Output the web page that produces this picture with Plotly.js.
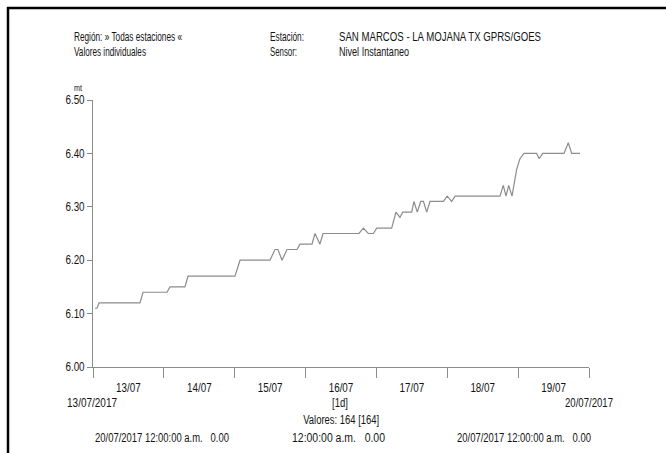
<!DOCTYPE html>
<html>
<head>
<meta charset="utf-8">
<script src="https://cdn.plot.ly/plotly-3.0.1.min.js"></script>
<style>
html,body{margin:0;padding:0;background:#fff;}
#chart{width:666px;height:453px;}
</style>
</head>
<body>
<div id="chart"></div>
<script>
// Water level readings (Nivel Instantaneo, mt)
const times = [
  "2017-07-13 00:40","2017-07-13 01:21","2017-07-13 02:02","2017-07-13 15:55","2017-07-13 16:56",
  "2017-07-14 01:03","2017-07-14 02:05","2017-07-14 07:09","2017-07-14 08:11",
  "2017-07-15 00:06","2017-07-15 01:48","2017-07-15 11:57","2017-07-15 13:38","2017-07-15 14:39",
  "2017-07-15 16:01","2017-07-15 17:42","2017-07-15 21:06","2017-07-15 22:06",
  "2017-07-16 02:11","2017-07-16 03:12","2017-07-16 04:52","2017-07-16 05:54","2017-07-16 18:06",
  "2017-07-16 19:34","2017-07-16 21:15","2017-07-16 22:57",
  "2017-07-17 00:06","2017-07-17 05:10","2017-07-17 06:37","2017-07-17 07:58","2017-07-17 08:54",
  "2017-07-17 11:57","2017-07-17 12:43","2017-07-17 13:50","2017-07-17 15:00","2017-07-17 15:56",
  "2017-07-17 17:02","2017-07-17 18:09","2017-07-17 22:40",
  "2017-07-18 00:00","2017-07-18 01:29","2017-07-18 02:37","2017-07-18 17:51","2017-07-18 18:58",
  "2017-07-18 19:53","2017-07-18 20:48","2017-07-18 21:55","2017-07-18 23:30",
  "2017-07-19 00:37","2017-07-19 01:58","2017-07-19 06:16","2017-07-19 07:09","2017-07-19 08:18",
  "2017-07-19 15:32","2017-07-19 16:59","2017-07-19 18:08","2017-07-19 20:57"
];
const levels = [
  6.11,6.11,6.12,6.12,6.14,
  6.14,6.15,6.15,6.17,
  6.17,6.20,6.20,6.22,6.22,
  6.20,6.22,6.22,6.23,
  6.23,6.25,6.23,6.25,6.25,
  6.26,6.25,6.25,
  6.26,6.26,6.29,6.28,6.29,
  6.29,6.31,6.29,6.31,6.31,
  6.29,6.31,6.31,
  6.32,6.31,6.32,6.32,6.34,
  6.32,6.34,6.32,6.37,
  6.39,6.40,6.40,6.39,6.40,
  6.40,6.42,6.40,6.40
];
// Blue marker at end of period
const markerTime = ["2017-07-20 00:00"];
const markerLevel = [6.506];

const xStart = "2017-07-13 00:00";
const xEnd = "2017-07-20 00:00";
const yMin = 6.0, yMax = 6.5;
const yTicks = [6.0, 6.1, 6.2, 6.3, 6.4, 6.5];
const yTickText = ["6.00","6.10","6.20","6.30","6.40","6.50"];

const FONT = '"Liberation Sans", Arial, sans-serif';
const NARROW = 0.82; // emulate a condensed face for tick labels

// pixel geometry of the plot area
const L = 93, R = 589, T = 100, B = 367;
const px = x => (x - L) / (R - L);
const py = y => (B - y) / (B - T);

// [text, x px, y px, anchor, font size, rendered width px]
const labelSpecs = [
  ["Región: » Todas estaciones «", 72, 36, 'left', 13, 108],
  ["Valores individuales", 72, 51, 'left', 13, 72],
  ["Estación:", 268, 36, 'left', 13, 34],
  ["Sensor:", 268, 51, 'left', 13, 27],
  ["SAN MARCOS - LA MOJANA TX GPRS/GOES", 337, 36, 'left', 13, 202],
  ["Nivel Instantaneo", 337, 51, 'left', 13, 70],
  ["mt", 72, 88, 'left', 9, 8],
  ["13/07/2017", 92, 403, 'center', 12, 50],
  ["20/07/2017", 589, 403, 'center', 12, 48],
  ["[1d]", 340, 403, 'center', 12, 16],
  ["Valores: 164 [164]", 341, 420, 'center', 12, 76],
  ["20/07/2017 12:00:00 a.m.&nbsp;&nbsp;&nbsp;0.00", 93, 438, 'left', 12, 134],
  ["12:00:00 a.m.&nbsp;&nbsp;&nbsp;0.00", 290, 438, 'left', 12, 93],
  ["20/07/2017 12:00:00 a.m.&nbsp;&nbsp;&nbsp;0.00", 455, 438, 'left', 12, 134]
];

const annotations = labelSpecs.map(s => ({
  text: s[0], xref: 'paper', yref: 'paper', x: px(s[1]), y: py(s[2]),
  xanchor: s[3], yanchor: 'middle', align: s[3], showarrow: false,
  font: {family: FONT, size: s[4], color: '#141414'}
}));

const shapes = [
  {type: 'line', xref: 'paper', yref: 'paper', x0: px(7), x1: px(670), y0: py(8), y1: py(8),
   line: {color: '#000', width: 2.5}},
  {type: 'line', xref: 'paper', yref: 'paper', x0: px(8), x1: px(8), y0: py(7), y1: py(460),
   line: {color: '#000', width: 2.5}}
];

const traces = [
  {x: times, y: levels, type: 'scatter', mode: 'lines',
   line: {color: '#8c8c8c', width: 1.2}, hoverinfo: 'x+y'},
  {x: markerTime, y: markerLevel, type: 'scatter', mode: 'markers', cliponaxis: false,
   marker: {symbol: 'square', size: 4, color: '#1010e0'}}
];

const layout = {
  width: 666, height: 453,
  margin: {l: L, r: 666 - R, t: T, b: 453 - B, pad: 0},
  paper_bgcolor: '#fff', plot_bgcolor: '#fff',
  showlegend: false,
  font: {family: FONT, size: 11, color: '#141414'},
  xaxis: {
    type: 'date', range: [xStart, xEnd],
    tickmode: 'linear', tick0: xStart, dtick: 86400000,
    ticklabelmode: 'period', tickformat: '%d/%m',
    showgrid: false, zeroline: false,
    showline: true, linecolor: '#8c8c8c', linewidth: 1,
    ticks: 'outside', ticklen: 10, tickcolor: '#8c8c8c', tickwidth: 1,
    tickfont: {family: FONT, size: 12, color: '#141414'}
  },
  yaxis: {
    range: [yMin, yMax], tickmode: 'array', tickvals: yTicks, ticktext: yTickText,
    showgrid: false, zeroline: false,
    showline: true, linecolor: '#8c8c8c', linewidth: 1,
    ticks: 'outside', ticklen: 5, tickcolor: '#8c8c8c', tickwidth: 1,
    tickfont: {family: FONT, size: 12, color: '#141414'}
  },
  annotations: annotations,
  shapes: shapes
};

Plotly.newPlot('chart', traces, layout, {displayModeBar: false, staticPlot: true}).then(gd => {
  // tick labels: uniform condensing
  gd.querySelectorAll('.xtick text, .ytick text').forEach(t => {
    const w = t.getComputedTextLength();
    if (w > 0) {
      t.setAttribute('textLength', (w * NARROW).toFixed(2));
      t.setAttribute('lengthAdjust', 'spacingAndGlyphs');
    }
  });
  // annotations: fit to the widths measured on the reference
  gd.querySelectorAll('.annotation-text').forEach((t, i) => {
    const spec = labelSpecs[i];
    if (spec && t.getComputedTextLength() > 0) {
      t.setAttribute('textLength', spec[5]);
      t.setAttribute('lengthAdjust', 'spacingAndGlyphs');
    }
  });
});
</script>
</body>
</html>
